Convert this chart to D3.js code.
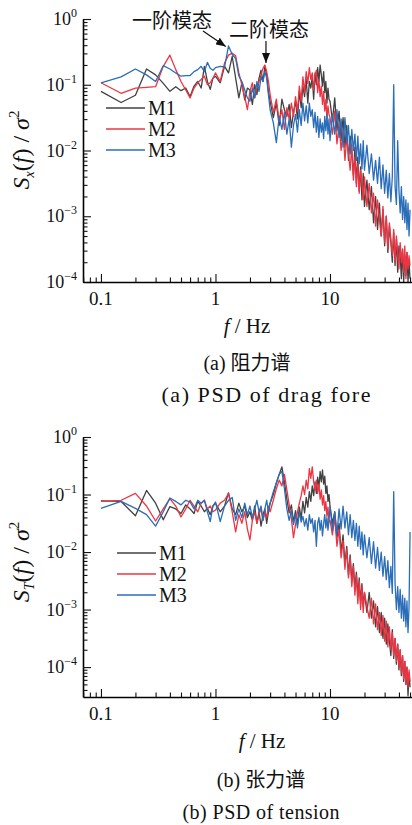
<!DOCTYPE html>
<html>
<head>
<meta charset="utf-8">
<script src="https://cdn.jsdelivr.net/npm/d3@7"></script>
<style>
body { margin: 0; background: #fff; }
svg text { font-family: "Liberation Serif", "Noto Sans CJK SC", serif; fill: #111; }
</style>
</head>
<body>
<script>
// frequency grid (Hz), shared by every series
var freq = [0.1,0.15,0.2,0.25,0.3,0.35,0.4,0.45,0.5,0.55,0.6,0.65,0.7,0.75,0.8,0.85,0.9,0.95,
  1.0,1.1,1.2,1.3,1.4,1.5,1.6,1.7,1.8,1.9,2.0,2.1,2.2,2.3,2.4,2.5,2.6,2.7,2.8,2.9,
  3.0,3.2,3.4,3.6,3.8,4.0,4.2,4.4,4.6,4.8,5.0,5.2,5.4,5.6,5.8,6.0,6.2,6.4,6.6,6.8,7.0,7.2,7.4,7.6,7.8,8.0,8.2,8.4,8.6,8.8,9.0,9.2,9.4,9.6,9.8,
  10,10.5,11,11.5,12,12.5,13,13.5,14,14.5,15,15.5,16,16.5,17,17.5,18,18.5,19,19.5,20,
  21,22,23,24,25,26,27,28,29,30,31,32,33,34,35,36,37,38,39,40,41,42,43,44,45,46,47,48,49,50];

// values are log10(S/sigma^2)
var dragM1 = [-1.10,-1.27,-1.16,-0.76,-0.85,-0.98,-1.10,-1.03,-1.09,-1.05,-1.18,-1.02,-0.95,-1.05,-0.72,-0.95,-1.07,-0.90,
  -0.87,-0.97,-0.72,-0.82,-0.57,-0.90,-1.20,-0.97,-1.23,-1.05,-1.08,-1.30,-1.00,-1.15,-0.90,-0.78,-0.95,-0.72,-0.85,-1.10,
  -1.25,-1.50,-1.28,-1.62,-1.22,-1.38,-1.48,-1.30,-1.65,-1.42,-1.25,-1.52,-1.10,-1.35,-1.02,-1.18,-0.92,-1.28,-0.95,-1.05,-0.88,-1.22,-0.82,-1.00,-0.74,-0.95,-0.70,-0.85,-1.02,-0.80,-1.12,-0.95,-1.28,-1.05,-1.22,
  -1.25,-1.55,-1.20,-1.70,-1.40,-1.85,-1.50,-1.95,-1.62,-2.15,-1.78,-2.05,-2.38,-1.95,-2.50,-2.10,-2.62,-2.25,-2.75,-2.35,-2.85,
  -2.45,-2.90,-2.55,-3.10,-2.70,-3.20,-2.80,-3.30,-2.90,-3.45,-3.00,-3.55,-3.15,-3.40,-3.70,-3.25,-3.75,-3.35,-3.85,-3.45,-3.60,-3.95,-3.50,-4.00,-3.60,-3.90,-3.55,-4.00,-3.70,-3.95];
var dragM2 = [-0.97,-1.13,-1.05,-1.04,-1.03,-0.72,-0.55,-0.77,-0.95,-1.08,-1.20,-1.05,-0.97,-0.92,-0.87,-1.00,-0.97,-0.90,
  -0.82,-0.95,-0.67,-0.55,-0.52,-0.56,-0.82,-1.00,-1.18,-1.38,-1.10,-0.97,-1.20,-1.05,-0.95,-0.85,-0.75,-0.70,-0.80,-0.95,
  -1.15,-1.42,-1.22,-1.55,-1.38,-1.68,-1.35,-1.52,-1.28,-1.48,-1.18,-1.40,-1.02,-1.25,-0.88,-1.12,-0.80,-0.98,-0.74,-0.92,-0.82,-1.08,-0.86,-0.78,-1.12,-0.92,-1.18,-1.02,-1.30,-1.10,-1.40,-1.22,-1.52,-1.32,-1.45,
  -1.50,-1.75,-1.40,-1.90,-1.60,-2.00,-1.70,-2.15,-1.80,-2.05,-2.30,-1.90,-2.45,-2.10,-2.55,-2.20,-2.65,-2.30,-2.45,-2.75,-2.40,
  -2.85,-2.50,-2.95,-2.65,-3.15,-2.75,-3.05,-3.30,-2.85,-3.40,-3.00,-3.50,-3.10,-3.35,-3.60,-3.20,-3.70,-3.30,-3.55,-3.80,-3.40,-3.70,-3.50,-3.85,-3.45,-3.95,-3.55,-3.80,-3.60,-3.75];
var dragM3 = [-0.97,-0.88,-0.76,-0.85,-0.95,-0.71,-0.76,-0.82,-0.87,-0.86,-0.86,-0.80,-0.77,-0.72,-0.80,-0.66,-0.75,-0.78,
  -0.74,-0.72,-0.73,-0.41,-0.54,-0.60,-0.87,-0.95,-1.08,-1.20,-1.25,-1.05,-1.20,-0.95,-1.10,-0.88,-0.95,-0.80,-0.90,-1.15,
  -1.38,-1.58,-1.88,-1.48,-1.68,-1.42,-1.75,-1.52,-1.95,-1.62,-1.45,-1.72,-1.38,-1.62,-1.28,-1.55,-1.32,-1.58,-1.28,-1.48,-1.38,-1.65,-1.42,-1.72,-1.48,-1.80,-1.52,-1.72,-1.58,-1.82,-1.48,-1.70,-1.45,-1.75,-1.52,
  -1.85,-1.45,-1.75,-1.38,-1.80,-1.52,-1.95,-1.50,-1.88,-1.62,-2.05,-1.68,-2.00,-1.75,-2.15,-1.78,-2.20,-1.90,-2.28,-1.85,-2.30,
  -1.92,-2.35,-2.05,-2.45,-2.15,-2.50,-2.10,-2.58,-2.22,-2.65,-2.30,-2.72,-2.35,-2.78,-2.40,-1.00,-2.55,-2.82,-1.85,-2.60,-2.95,-2.55,-3.05,-2.70,-3.10,-2.75,-3.20,-2.80,-3.30,-2.90];

var tensionM1 = [-1.11,-1.12,-1.37,-0.93,-1.15,-1.44,-1.21,-1.25,-1.33,-1.18,-1.25,-1.33,-1.12,-1.20,-1.30,-1.24,-1.35,-1.20,
  -1.15,-1.30,-1.20,-0.97,-1.25,-1.35,-1.15,-1.30,-1.20,-1.40,-1.30,-1.45,-1.20,-1.50,-1.30,-1.55,-1.35,-1.25,-1.50,-1.30,
  -1.15,-1.00,-0.80,-0.65,-0.52,-0.78,-1.08,-1.32,-1.18,-1.48,-1.28,-1.52,-1.22,-1.42,-1.12,-1.32,-1.05,-1.22,-0.95,-1.12,-0.85,-1.02,-0.78,-0.98,-0.70,-0.88,-0.60,-0.78,-0.57,-0.82,-0.68,-0.98,-0.85,-1.12,-1.00,
  -1.20,-1.50,-1.30,-1.75,-1.50,-2.00,-1.70,-2.20,-1.90,-2.40,-2.05,-2.50,-2.20,-2.65,-2.35,-2.75,-2.45,-2.90,-2.55,-2.95,-2.70,
  -3.05,-2.70,-3.15,-2.85,-3.30,-2.95,-3.40,-3.05,-3.50,-3.15,-3.60,-3.25,-3.55,-3.80,-3.35,-3.85,-3.50,-3.95,-3.60,-4.05,-3.70,-4.15,-3.80,-4.25,-3.90,-4.30,-4.00,-4.50,-4.10,-4.35];
var tensionM2 = [-1.12,-1.10,-0.98,-1.20,-1.46,-1.25,-1.07,-1.20,-1.39,-1.25,-1.10,-1.20,-1.30,-1.15,-1.10,-1.25,-1.20,-1.30,
  -1.27,-1.15,-1.10,-0.98,-1.30,-1.65,-1.35,-1.50,-1.30,-1.60,-1.79,-1.45,-1.30,-1.50,-1.35,-1.25,-1.45,-1.30,-1.40,-1.20,
  -1.30,-1.10,-0.90,-0.75,-0.85,-0.65,-0.92,-1.18,-1.42,-1.75,-1.52,-1.30,-1.15,-1.02,-0.85,-1.00,-0.75,-0.90,-0.55,-0.72,-0.52,-0.78,-0.92,-0.75,-0.98,-0.82,-1.08,-0.92,-1.18,-1.02,-1.28,-1.12,-1.38,-1.22,-1.48,
  -1.45,-1.70,-1.40,-1.90,-1.60,-2.10,-1.80,-2.30,-1.95,-2.45,-2.10,-2.60,-2.25,-2.75,-2.40,-2.90,-2.50,-3.00,-2.60,-3.05,-2.70,
  -2.95,-3.15,-2.80,-3.25,-2.90,-3.35,-3.05,-3.45,-3.10,-3.55,-3.20,-3.65,-3.30,-3.70,-3.40,-3.80,-3.50,-3.90,-3.60,-4.00,-3.70,-4.10,-3.80,-4.20,-3.90,-4.30,-4.00,-4.35,-4.05,-4.25];
var tensionM3 = [-1.24,-1.12,-1.24,-1.35,-1.55,-1.30,-1.06,-1.12,-1.18,-1.10,-1.13,-1.25,-1.10,-1.15,-1.10,-1.30,-1.47,-1.20,
  -1.13,-1.47,-1.20,-1.10,-1.05,-1.45,-1.25,-1.40,-1.15,-1.35,-1.20,-1.40,-1.25,-1.10,-1.30,-1.20,-1.45,-1.25,-1.10,-1.30,
  -1.15,-0.95,-0.80,-0.65,-0.60,-0.90,-1.25,-1.45,-1.28,-1.52,-1.35,-1.58,-1.30,-1.48,-1.38,-1.55,-1.42,-1.62,-1.35,-1.50,-1.42,-1.65,-1.45,-1.90,-1.50,-1.40,-1.62,-1.45,-1.72,-1.50,-1.35,-1.58,-1.40,-1.62,-1.45,
  -1.20,-1.62,-1.30,-1.70,-1.25,-1.60,-1.20,-1.58,-1.30,-1.70,-1.35,-1.75,-1.45,-1.80,-1.50,-1.90,-1.55,-1.95,-1.65,-2.05,-1.70,
  -2.10,-1.75,-2.20,-1.82,-2.28,-1.92,-2.32,-2.00,-2.42,-2.08,-2.48,-2.15,-2.62,-2.25,-2.72,-0.95,-2.55,-3.00,-2.60,-3.05,-2.65,-3.15,-2.75,-3.20,-2.80,-3.30,-2.85,-3.40,-2.95,-1.65];

var seriesNames = ["M1", "M2", "M3"];
var colors = ["#414141", "#ee3442", "#2a6db8"];
var xTicks = [0.1, 1, 10];
var xTickLabels = ["0.1", "1", "10"];
var yTickExps = [0, -1, -2, -3, -4];

var width = 412, height = 825;
var svg = d3.select("body").append("svg")
    .attr("width", width)
    .attr("height", height)
    .attr("font-family", "Liberation Serif, Noto Sans CJK SC, serif");

var defs = svg.append("defs");
defs.append("marker")
    .attr("id", "arrow")
    .attr("markerUnits", "userSpaceOnUse")
    .attr("markerWidth", 10).attr("markerHeight", 8)
    .attr("refX", 10).attr("refY", 4)
    .attr("orient", "auto")
  .append("path")
    .attr("d", "M0,0L10,4L0,8Z")
    .attr("fill", "#111");

var x = d3.scaleLog().domain([0.0697, 52]).range([83, 412]);

// minor tick positions (2..9 of each decade)
function minorTicks(lo, hi) {
    var out = [];
    for (var e = -6; e <= 2; e++) {
        for (var k = 2; k <= 9; k++) {
            var v = k * Math.pow(10, e);
            if (v >= lo && v <= hi) out.push(v);
        }
    }
    return out;
}

function drawPanel(p) {
    var y = d3.scaleLog().domain([p.ymin, 1]).range([p.bottom, p.top]);
    var g = svg.append("g");

    var clipId = "clip" + p.id;
    defs.append("clipPath").attr("id", clipId)
      .append("rect")
        .attr("x", 83).attr("y", p.top - 2)
        .attr("width", 412 - 83).attr("height", p.bottom - p.top + 2);

    var line = d3.line()
        .x(function(d) { return x(d.f); })
        .y(function(d) { return y(d.v); });

    p.series.forEach(function(s, i) {
        var table = freq.map(function(f, j) { return { f: f, v: Math.pow(10, s[j]) }; });
        g.append("path")
            .datum(table)
            .attr("clip-path", "url(#" + clipId + ")")
            .attr("fill", "none")
            .attr("stroke", colors[i])
            .attr("stroke-width", 1.3)
            .attr("stroke-linejoin", "round")
            .attr("d", line);
    });

    // y axis, ticks inward
    var yMajor = yTickExps.map(function(e) { return Math.pow(10, e); });
    g.append("g")
        .attr("transform", "translate(83,0)")
        .call(d3.axisLeft(y).tickValues(yMajor).tickSize(-8).tickSizeOuter(0).tickFormat(""))
        .call(function(a) { a.select(".domain").attr("stroke-width", 1.6); });
    g.append("g")
        .attr("transform", "translate(83,0)")
        .call(d3.axisLeft(y).tickValues(minorTicks(p.ymin, 1)).tickSize(-4.5).tickFormat(""))
        .call(function(a) { a.select(".domain").remove(); });

    // x axis
    g.append("g")
        .attr("transform", "translate(0," + p.bottom + ")")
        .call(d3.axisBottom(x).tickValues(xTicks).tickSize(-8).tickSizeOuter(0).tickFormat(""))
        .call(function(a) { a.select(".domain").attr("stroke-width", 1.6); });
    g.append("g")
        .attr("transform", "translate(0," + p.bottom + ")")
        .call(d3.axisBottom(x).tickValues(minorTicks(0.0697, 52)).tickSize(-4.5).tickFormat(""))
        .call(function(a) { a.select(".domain").remove(); });

    g.selectAll(".tick line").attr("stroke", "#111").attr("stroke-width", 1.1);

    // y tick labels 10^n
    yTickExps.forEach(function(e) {
        var t = g.append("text")
            .attr("x", 77).attr("y", y(Math.pow(10, e)) + 6)
            .attr("text-anchor", "end")
            .style("font-size", "18px");
        t.append("tspan").text("10");
        t.append("tspan").attr("dy", -8).style("font-size", "12px")
            .text(e === 0 ? "0" : "\u2212" + (-e));
    });

    // x tick labels
    xTicks.forEach(function(v, i) {
        g.append("text")
            .attr("x", x(v)).attr("y", p.bottom + 23)
            .attr("text-anchor", "middle")
            .style("font-size", "19px")
            .text(xTickLabels[i]);
    });

    // y axis title
    var yt = g.append("text")
        .attr("transform", "translate(29," + p.ymid + ") rotate(-90)")
        .attr("text-anchor", "middle")
        .style("font-size", "24px");
    yt.append("tspan").style("font-style", "italic").text("S");
    yt.append("tspan").attr("dy", 5).style("font-size", "14px").style("font-style", "italic").text(p.sub);
    yt.append("tspan").attr("dy", -5).text("(");
    yt.append("tspan").style("font-style", "italic").text("f");
    yt.append("tspan").text(") / ");
    yt.append("tspan").style("font-style", "italic").text("\u03c3");
    yt.append("tspan").attr("dy", -10).style("font-size", "15px").text("2");

    // x axis title
    var xt = g.append("text")
        .attr("x", p.xmid).attr("y", p.bottom + 51)
        .attr("text-anchor", "middle")
        .style("font-size", "21px");
    xt.append("tspan").style("font-style", "italic").text("f");
    xt.append("tspan").text(" / Hz");

    // captions
    g.append("text")
        .attr("x", p.capX).attr("y", p.capY)
        .attr("text-anchor", "middle")
        .style("font-size", "20px")
        .text(p.cap1);
    g.append("text")
        .attr("x", p.capX2).attr("y", p.capY + 32)
        .attr("text-anchor", "middle")
        .attr("textLength", p.cap2Len)
        .attr("lengthAdjust", "spacing")
        .style("font-size", p.cap2Size)
        .text(p.cap2);

    // legend
    seriesNames.forEach(function(name, i) {
        var ly = p.legY + i * 21;
        g.append("line")
            .attr("x1", p.legX).attr("x2", p.legX + 39)
            .attr("y1", ly).attr("y2", ly)
            .attr("stroke", colors[i]).attr("stroke-width", 1.4);
        g.append("text")
            .attr("x", p.legX + 42).attr("y", ly + 7)
            .style("font-size", "20px")
            .text(name);
    });

    return y;
}

var yDrag = drawPanel({
    id: "a", top: 19, bottom: 282, ymin: 1e-4, ymid: 150, sub: "x",
    series: [dragM1, dragM2, dragM3],
    xmid: 247, capX: 247, capX2: 266, capY: 370, cap2Len: 209, cap2Size: "22px",
    cap1: "(a) \u963b\u529b\u8c31", cap2: "(a) PSD of drag fore",
    legX: 106, legY: 108
});

var yTension = drawPanel({
    id: "b", top: 437, bottom: 697, ymin: Math.pow(10, -4.52), ymid: 562, sub: "T",
    series: [tensionM1, tensionM2, tensionM3],
    xmid: 262, capX: 261, capX2: 261, capY: 787, cap2Len: 157, cap2Size: "20px",
    cap1: "(b) \u5f20\u529b\u8c31", cap2: "(b) PSD of tension",
    legX: 117, legY: 553
});

// mode annotations on the drag panel
svg.append("text").attr("x", 132).attr("y", 28)
    .style("font-size", "20px").text("\u4e00\u9636\u6a21\u6001");
svg.append("text").attr("x", 229).attr("y", 37)
    .style("font-size", "20px").text("\u4e8c\u9636\u6a21\u6001");
svg.append("line")
    .attr("x1", 203).attr("y1", 31)
    .attr("x2", x(1.23)).attr("y2", yDrag(Math.pow(10, -0.42)))
    .attr("stroke", "#111").attr("stroke-width", 1.2)
    .attr("marker-end", "url(#arrow)");
svg.append("line")
    .attr("x1", x(2.76)).attr("y1", 41)
    .attr("x2", x(2.76)).attr("y2", yDrag(Math.pow(10, -0.67)))
    .attr("stroke", "#111").attr("stroke-width", 1.2)
    .attr("marker-end", "url(#arrow)");
</script>
</body>
</html>
